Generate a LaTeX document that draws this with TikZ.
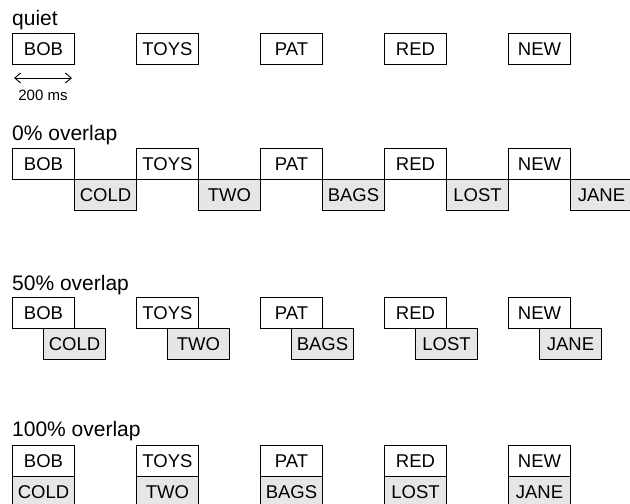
\documentclass[tikz,border=0pt]{standalone}
\usepackage{fontspec}
\setmainfont{Liberation Sans}
\usetikzlibrary{arrows.meta}
\newcommand{\boxfont}{\fontsize{18.5}{20}\selectfont}
\newcommand{\labfont}{\fontsize{21}{24}\selectfont}
\newcommand{\smallfont}{\fontsize{15}{17}\selectfont}
\definecolor{boxgray}{HTML}{E6E6E6}
\tikzset{
  wbox/.style={draw, line width=1pt, minimum width=62pt, minimum height=31pt, inner sep=0pt, anchor=north west, font=\boxfont, fill=white},
  gbox/.style={wbox, fill=boxgray},
  lab/.style={anchor=base west, inner sep=0pt, font=\labfont}
}
\begin{document}
\begin{tikzpicture}[x=1pt,y=-1pt]
\useasboundingbox (0,0) rectangle (630,504);
\clip (0,0) rectangle (630,504);
% quiet
\node[lab] (lq) at (12,25) {quiet};
\node[wbox] (q1) at (12,33) {BOB};
\node[wbox] (q2) at (136,33) {TOYS};
\node[wbox] (q3) at (260,33) {PAT};
\node[wbox] (q4) at (384,33) {RED};
\node[wbox] (q5) at (508,33) {NEW};
\coordinate (al) at (14,78);
\coordinate (ar) at (72,78);
\draw[line width=0.9pt, {Straight Barb[length=6pt,width=10pt]}-{Straight Barb[length=6pt,width=10pt]}] (al) -- (ar);
\node[anchor=base, inner sep=0pt, font=\smallfont] (ms) at (43,100) {200 ms};
% 0% overlap
\node[lab] (l0) at (12,140) {0\% overlap};
\node[wbox] (a1) at (12,148) {BOB};
\node[wbox] (a2) at (136,148) {TOYS};
\node[wbox] (a3) at (260,148) {PAT};
\node[wbox] (a4) at (384,148) {RED};
\node[wbox] (a5) at (508,148) {NEW};
\node[gbox] (b1) at (74,179) {COLD};
\node[gbox] (b2) at (198,179) {TWO};
\node[gbox] (b3) at (322,179) {BAGS};
\node[gbox] (b4) at (446,179) {LOST};
\node[gbox] (b5) at (570,179) {JANE};
% 50% overlap
\node[lab] (l5) at (12,290) {50\% overlap};
\node[wbox] (c1) at (12,297) {BOB};
\node[wbox] (c2) at (136,297) {TOYS};
\node[wbox] (c3) at (260,297) {PAT};
\node[wbox] (c4) at (384,297) {RED};
\node[wbox] (c5) at (508,297) {NEW};
\node[gbox] (d1) at (43,328) {COLD};
\node[gbox] (d2) at (167,328) {TWO};
\node[gbox] (d3) at (291,328) {BAGS};
\node[gbox] (d4) at (415,328) {LOST};
\node[gbox] (d5) at (539,328) {JANE};
% 100% overlap
\node[lab] (l1) at (12,436) {100\% overlap};
\node[wbox] (e1) at (12,445) {BOB};
\node[wbox] (e2) at (136,445) {TOYS};
\node[wbox] (e3) at (260,445) {PAT};
\node[wbox] (e4) at (384,445) {RED};
\node[wbox] (e5) at (508,445) {NEW};
\node[gbox] (f1) at (12,476) {COLD};
\node[gbox] (f2) at (136,476) {TWO};
\node[gbox] (f3) at (260,476) {BAGS};
\node[gbox] (f4) at (384,476) {LOST};
\node[gbox] (f5) at (508,476) {JANE};
\end{tikzpicture}
\end{document}
